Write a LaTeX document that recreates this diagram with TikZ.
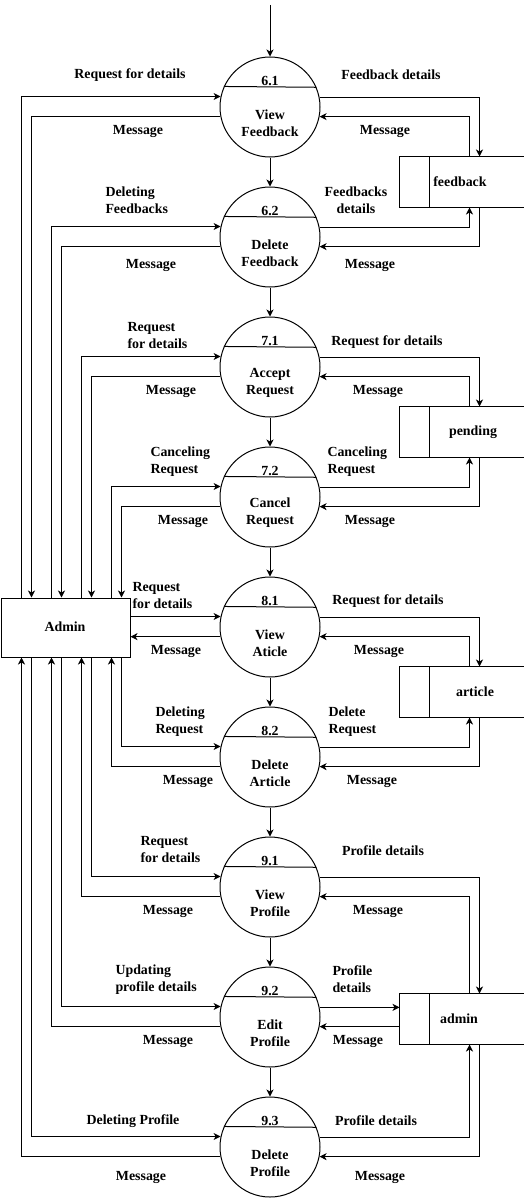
\documentclass[tikz,border=0pt]{standalone}
\usepackage{fontspec}
\setmainfont{Liberation Serif}
\usetikzlibrary{arrows.meta}

\begin{document}
\begin{tikzpicture}[x=1pt, y=-1pt, line width=1pt]
            \tikzstyle{proc} = [draw, circle, minimum size=100pt, inner sep=0pt]
            \tikzstyle{entity} = [draw, rectangle, minimum width=129pt, minimum height=59pt]
            \tikzstyle{store} = [rectangle, minimum width=123pt, minimum height=50pt, inner sep=0pt]
            \tikzstyle{txt} = [font=\fontsize{13.9}{17}\selectfont\bfseries, align=center, inner sep=0pt]
            \tikzstyle{lbl} = [font=\fontsize{13.9}{17}\selectfont\bfseries, align=left, inner sep=0pt]
            \tikzstyle{arrow} = [-{Stealth[length=7pt, width=7pt, inset=2pt]}]

            \useasboundingbox (0,0) rectangle (523,1199);

            % processes
            \node[proc] (p61) at (270,107) {};
            \node[proc] (p62) at (270,237) {};
            \node[proc] (p71) at (270,367) {};
            \node[proc] (p72) at (270,497) {};
            \node[proc] (p81) at (270,627) {};
            \node[proc] (p82) at (270,757) {};
            \node[proc] (p91) at (270,887) {};
            \node[proc] (p92) at (270,1017) {};
            \node[proc] (p93) at (270,1147) {};

            \draw (p61.156.42) -- (p61.23.58);
            \draw (p62.156.42) -- (p62.23.58);
            \draw (p71.156.42) -- (p71.23.58);
            \draw (p72.156.42) -- (p72.23.58);
            \draw (p81.156.42) -- (p81.23.58);
            \draw (p82.156.42) -- (p82.23.58);
            \draw (p91.156.42) -- (p91.23.58);
            \draw (p92.156.42) -- (p92.23.58);
            \draw (p93.156.42) -- (p93.23.58);

            \node[txt] (n61) at (270,81) {6.1};
            \node[txt] (t61) at (270,123) {View\\Feedback};
            \node[txt] (n62) at (270,211) {6.2};
            \node[txt] (t62) at (270,253) {Delete\\Feedback};
            \node[txt] (n71) at (270,341) {7.1};
            \node[txt] (t71) at (270,383) {Accept\\Request};
            \node[txt] (n72) at (270,471) {7.2};
            \node[txt] (t72) at (270,513) {Cancel\\Request};
            \node[txt] (n81) at (270,601) {8.1};
            \node[txt] (t81) at (270,643) {View\\Aticle};
            \node[txt] (n82) at (270,731) {8.2};
            \node[txt] (t82) at (270,773) {Delete\\Article};
            \node[txt] (n91) at (270,861) {9.1};
            \node[txt] (t91) at (270,903) {View\\Profile};
            \node[txt] (n92) at (270,991) {9.2};
            \node[txt] (t92) at (270,1033) {Edit\\Profile};
            \node[txt] (n93) at (270,1121) {9.3};
            \node[txt] (t93) at (270,1163) {Delete\\Profile};

            % entity and stores
            \node[entity] (admin) at (65.5,627.5) {};
            \node[txt] (adminText) at (65,627) {Admin};

            \node[store] (fb) at (461.5,182) {};
            \node[store] (pend) at (461.5,432) {};
            \node[store] (art) at (461.5,692) {};
            \node[store] (adm) at (461.5,1019) {};
            \draw (fb.north east) -- (fb.north west) -- (fb.south west) -- (fb.south east);
            \draw ([xshift=30pt]fb.north west) -- ([xshift=30pt]fb.south west);
            \draw (pend.north east) -- (pend.north west) -- (pend.south west) -- (pend.south east);
            \draw ([xshift=30pt]pend.north west) -- ([xshift=30pt]pend.south west);
            \draw (art.north east) -- (art.north west) -- (art.south west) -- (art.south east);
            \draw ([xshift=30pt]art.north west) -- ([xshift=30pt]art.south west);
            \draw (adm.north east) -- (adm.north west) -- (adm.south west) -- (adm.south east);
            \draw ([xshift=30pt]adm.north west) -- ([xshift=30pt]adm.south west);
            \node[txt] (fbText) at (460,182) {feedback};
            \node[txt] (pendText) at (473,432) {pending};
            \node[txt] (artText) at (475,692) {article};
            \node[txt] (admText) at (459,1019) {admin};

            % main chain
            \coordinate (start) at (270,5);
            \draw[arrow] (start) -- (p61);
            \draw[arrow] (p61) -- (p62);
            \draw[arrow] (p62) -- (p71);
            \draw[arrow] (p71) -- (p72);
            \draw[arrow] (p72) -- (p81);
            \draw[arrow] (p81) -- (p82);
            \draw[arrow] (p82) -- (p91);
            \draw[arrow] (p91) -- (p92);
            \draw[arrow] (p92) -- (p93);

            % admin side
            \draw[arrow] ([xshift=21pt]admin.north west) |- (p61.168.46);
            \draw[arrow] (p61.191.54) -| ([xshift=31pt]admin.north west);
            \draw[arrow] ([xshift=51pt]admin.north west) |- (p62.168.46);
            \draw[arrow] (p62.191.54) -| ([xshift=61pt]admin.north west);
            \draw[arrow] ([xshift=81pt]admin.north west) |- (p71.168.46);
            \draw[arrow] (p71.191.54) -| ([xshift=91pt]admin.north west);
            \draw[arrow] ([xshift=111pt]admin.north west) |- (p72.168.46);
            \draw[arrow] (p72.191.54) -| ([xshift=121pt]admin.north west);
            \draw[arrow] (admin.east |- p81.168.46) -- (p81.168.46);
            \draw[arrow] (p81.191.54) -- (admin.east |- p81.191.54);
            \draw[arrow] ([xshift=121pt]admin.south west) |- (p82.168.46);
            \draw[arrow] (p82.191.54) -| ([xshift=111pt]admin.south west);
            \draw[arrow] ([xshift=91pt]admin.south west) |- (p91.168.46);
            \draw[arrow] (p91.191.54) -| ([xshift=81pt]admin.south west);
            \draw[arrow] ([xshift=61pt]admin.south west) |- (p92.168.46);
            \draw[arrow] (p92.191.54) -| ([xshift=51pt]admin.south west);
            \draw[arrow] ([xshift=31pt]admin.south west) |- (p93.168.46);
            \draw[arrow] (p93.191.54) -| ([xshift=21pt]admin.south west);

            % store side
            \draw[arrow] (p61.11.54) -| ([xshift=80pt]fb.north west);
            \draw[arrow] ([xshift=70pt]fb.north west) |- (p61.-11.54);
            \draw[arrow] (p62.11.54) -| ([xshift=70pt]fb.south west);
            \draw[arrow] ([xshift=80pt]fb.south west) |- (p62.-11.54);
            \draw[arrow] (p71.11.54) -| ([xshift=80pt]pend.north west);
            \draw[arrow] ([xshift=70pt]pend.north west) |- (p71.-11.54);
            \draw[arrow] (p72.11.54) -| ([xshift=70pt]pend.south west);
            \draw[arrow] ([xshift=80pt]pend.south west) |- (p72.-11.54);
            \draw[arrow] (p81.11.54) -| ([xshift=80pt]art.north west);
            \draw[arrow] ([xshift=70pt]art.north west) |- (p81.-11.54);
            \draw[arrow] (p82.11.54) -| ([xshift=70pt]art.south west);
            \draw[arrow] ([xshift=80pt]art.south west) |- (p82.-11.54);
            \draw[arrow] (p91.11.54) -| ([xshift=80pt]adm.north west);
            \draw[arrow] ([xshift=70pt]adm.north west) |- (p91.-11.54);
            \draw[arrow] (p92.11.54) -- (adm.west |- p92.11.54);
            \draw[arrow] (adm.west |- p92.-11.54) -- (p92.-11.54);
            \draw[arrow] (p93.11.54) -| ([xshift=70pt]adm.south west);
            \draw[arrow] ([xshift=80pt]adm.south west) |- (p93.-11.54);

            % flow labels
            \node[lbl] (l61a) at (130,75) {Request for details};
            \node[lbl] (l61b) at (138,131) {Message};
            \node[lbl] (l61c) at (391,75) {Feedback details};
            \node[lbl] (l61d) at (385,131) {Message};
            \node[lbl, anchor=west] (l62a) at (105,200) {Deleting\\Feedbacks};
            \node[lbl] (l62b) at (151,265) {Message};
            \node[txt] (l62c) at (356,200) {Feedbacks\\details};
            \node[lbl] (l62d) at (370,265) {Message};
            \node[lbl, anchor=west] (l71a) at (127,335.5) {Request\\for details};
            \node[lbl] (l71b) at (171,391) {Message};
            \node[lbl] (l71c) at (387,342) {Request for details};
            \node[lbl] (l71d) at (378,391) {Message};
            \node[lbl, anchor=west] (l72a) at (150,461.5) {Canceling\\Request};
            \node[lbl] (l72b) at (183,521) {Message};
            \node[lbl, anchor=west] (l72c) at (327,461.5) {Canceling\\Request};
            \node[lbl] (l72d) at (370,521) {Message};
            \node[lbl, anchor=west] (l81a) at (132,595.5) {Request\\for details};
            \node[lbl] (l81b) at (176,651) {Message};
            \node[lbl] (l81c) at (388,601) {Request for details};
            \node[lbl] (l81d) at (379,651) {Message};
            \node[lbl, anchor=west] (l82a) at (155,722) {Deleting\\Request};
            \node[lbl] (l82b) at (188,781) {Message};
            \node[lbl, anchor=west] (l82c) at (328,722) {Delete\\Request};
            \node[lbl] (l82d) at (372,781) {Message};
            \node[lbl, anchor=west] (l91a) at (140,849.5) {Request\\for details};
            \node[lbl] (l91b) at (168,911) {Message};
            \node[lbl] (l91c) at (383,851) {Profile details};
            \node[lbl] (l91d) at (378,911) {Message};
            \node[lbl, anchor=west] (l92a) at (115,979.5) {Updating\\profile details};
            \node[lbl] (l92b) at (168,1041) {Message};
            \node[lbl, anchor=west] (l92c) at (332,979.5) {Profile\\details};
            \node[lbl] (l92d) at (358,1041) {Message};
            \node[lbl] (l93a) at (133,1121) {Deleting Profile};
            \node[lbl] (l93b) at (141,1177) {Message};
            \node[lbl] (l93c) at (376,1121) {Profile details};
            \node[lbl] (l93d) at (380,1177) {Message};
        \end{tikzpicture}
\end{document}
